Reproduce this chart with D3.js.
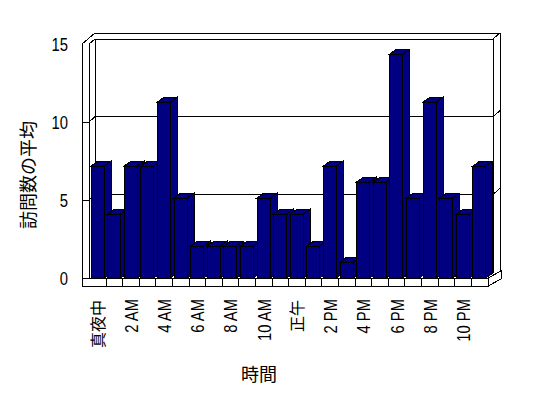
<!DOCTYPE html>
<html>
<head>
<meta charset="utf-8">
<script src="https://cdn.jsdelivr.net/npm/d3@7"></script>
<style>
  html, body { margin: 0; padding: 0; background: #fff; }
  svg { display: block; }
  text { font-family: "Liberation Sans", "Noto Sans CJK JP", sans-serif; fill: #000; }
</style>
</head>
<body>
<svg id="chart" width="548" height="398"></svg>
<script>
const hours = d3.range(24).map(String);
const visits = [7, 4, 7, 7, 11, 5, 2, 2, 2, 2, 5, 4, 4, 2, 7, 1, 6, 6, 14, 5, 11, 5, 4, 7];
const tickLabels = ["真夜中", "2 AM", "4 AM", "6 AM", "8 AM", "10 AM", "正午", "2 PM", "4 PM", "6 PM", "8 PM", "10 PM"];
const yTicks = [0, 5, 10, 15];
const yTitle = "訪問数の平均";
const xTitle = "時間";

const svg = d3.select("#chart");
const g = svg.append("g").attr("shape-rendering", "crispEdges");

// scales: bars sit slightly in front of the axis plane
const x = d3.scaleBand().domain(hours).range([89.5, 488]);
const yBar = d3.scaleLinear().domain([0, 15]).range([278, 38]);
const yFront = d3.scaleLinear().domain([0, 15]).range([278, 44]);
const yBack = d3.scaleLinear().domain([0, 15]).range([272, 39]);

const wallL = 82, wallIn = 89, backL = 95, backR = 493, outerR = 500, outerTop = 33;
const line = (x1, y1, x2, y2) => g.append("line")
  .attr("x1", x1).attr("y1", y1).attr("x2", x2).attr("y2", y2)
  .attr("stroke", "#000").attr("stroke-width", 1);

// back wall
g.append("rect")
  .attr("x", backL).attr("y", yBack(15))
  .attr("width", backR - backL).attr("height", yBack(0) - yBack(15))
  .attr("fill", "#fff").attr("stroke", "#000");

// wall frame
line(backL, outerTop, outerR, outerTop);
line(wallL, yFront(15), backL, outerTop);
line(wallIn, yFront(15), backL, yBack(15));
line(backR, yBack(15), outerR, outerTop);
line(outerR, outerTop, outerR, 279);
line(wallL, yFront(15), wallL, 286);
line(wallIn, yFront(15), wallIn, yFront(0));

// gridlines
[5, 10].forEach(v => {
  line(wallL, yFront(v), wallIn, yFront(v));
  line(wallIn, yFront(v), backL, yBack(v));
  line(backL, yBack(v), backR, yBack(v));
  line(backR, yBack(v), outerR, yBack(v) - 6);
});

// floor front face with category cells
g.append("rect")
  .attr("x", wallL).attr("y", 278)
  .attr("width", 488 - wallL).attr("height", 8)
  .attr("fill", "#fff").attr("stroke", "#000");
hours.slice(1).forEach(h => line(x(h), 278, x(h), 286));
g.append("polygon")
  .attr("points", [[488, 278], [488, 286], [outerR + 1, 279], [outerR + 1, 271]].join(" "))
  .attr("fill", "#fff").attr("stroke", "#000");

// bars
const bw = 13, dx = 7, dy = -5;
const bars = g.append("g")
  .selectAll("g")
  .data(hours.map((h, i) => ({ h, v: visits[i] })))
  .enter()
  .append("g")
  .attr("fill", "#000080")
  .attr("stroke", "#000");

bars.append("polygon")
  .attr("points", d => {
    const x1 = x(d.h) + 1.5 + bw, yt = yBar(d.v), yb = yBar(0);
    return [[x1, yb], [x1, yt], [x1 + dx, yt + dy], [x1 + dx, yb + dy]].join(" ");
  });
bars.append("polygon")
  .attr("points", d => {
    const x0 = x(d.h) + 1.5, yt = yBar(d.v);
    return [[x0, yt], [x0 + dx, yt + dy], [x0 + bw + dx, yt + dy], [x0 + bw, yt]].join(" ");
  });
bars.append("rect")
  .attr("x", d => x(d.h) + 1.5)
  .attr("y", d => yBar(d.v))
  .attr("width", bw)
  .attr("height", d => yBar(0) - yBar(d.v));

// y tick labels
svg.append("g")
  .selectAll("text")
  .data(yTicks)
  .enter()
  .append("text")
  .attr("transform", d => `translate(68,${yFront(d)}) scale(0.78,1)`)
  .attr("text-anchor", "end")
  .attr("dy", "0.36em")
  .attr("font-size", 19)
  .text(d => d);

// x tick labels (every other hour)
const isCJK = s => /[\u3000-\u9fff]/.test(s);
svg.append("g")
  .selectAll("text")
  .data(tickLabels)
  .enter()
  .append("text")
  .attr("transform", (d, i) => {
    const cx = x(hours[i * 2]) + x.bandwidth() / 2;
    return isCJK(d)
      ? `translate(${cx},300) rotate(-90)`
      : `translate(${cx},299) rotate(-90) scale(0.78,1)`;
  })
  .attr("text-anchor", "end")
  .attr("dy", "0.36em")
  .attr("font-size", d => (isCJK(d) ? 16 : 19))
  .text(d => d);

// axis titles
svg.append("text")
  .attr("transform", "translate(29,175) rotate(-90)")
  .attr("text-anchor", "middle")
  .attr("dy", "0.36em")
  .attr("font-size", 18)
  .text(yTitle);

svg.append("text")
  .attr("x", 259).attr("y", 375)
  .attr("text-anchor", "middle")
  .attr("dy", "0.36em")
  .attr("font-size", 18)
  .text(xTitle);
</script>
</body>
</html>
